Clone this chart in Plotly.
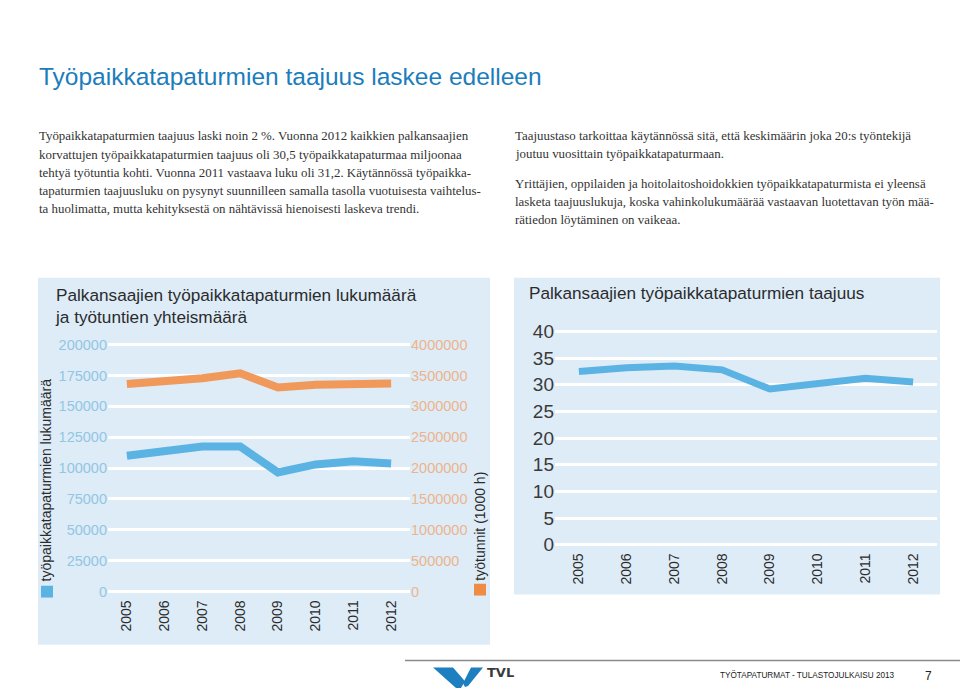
import plotly.graph_objects as go

# ---------------- data ----------------
years = ["2005", "2006", "2007", "2008", "2009", "2010", "2011", "2012"]
accidents = [110000, 113800, 117500, 117500, 96500, 103000, 105600, 103800]
work_hours = [3360000, 3400000, 3455000, 3535000, 3305000, 3350000, 3370000, 3370000]
frequency = [32.5, 33.2, 33.5, 32.8, 29.2, 30.3, 31.2, 30.5]

left_ticks = [0, 25000, 50000, 75000, 100000, 125000, 150000, 175000, 200000]
right_ticks = [0, 500000, 1000000, 1500000, 2000000, 2500000, 3000000, 3500000, 4000000]
freq_ticks = [0, 5, 10, 15, 20, 25, 30, 35, 40]

title_text = "Työpaikkatapaturmien taajuus laskee edelleen"
left_par = [
    "Työpaikkatapaturmien taajuus laski noin 2 %. Vuonna 2012 kaikkien palkansaajien",
    "korvattujen työpaikkatapaturmien taajuus oli 30,5 työpaikkatapaturmaa miljoonaa",
    "tehtyä työtuntia kohti. Vuonna 2011 vastaava luku oli 31,2. Käytännössä työpaikka-",
    "tapaturmien taajuusluku on pysynyt suunnilleen samalla tasolla vuotuisesta vaihtelus-",
    "ta huolimatta, mutta kehityksestä on nähtävissä hienoisesti laskeva trendi.",
]
right_par = [
    "Taajuustaso tarkoittaa käytännössä sitä, että keskimäärin joka 20:s työntekijä",
    "joutuu vuosittain työpaikkatapaturmaan.",
    "",
    "Yrittäjien, oppilaiden ja hoitolaitoshoidokkien työpaikkatapaturmista ei yleensä",
    "lasketa taajuuslukuja, koska vahinkolukumäärää vastaavan luotettavan työn mää-",
    "rätiedon löytäminen on vaikeaa.",
]
left_chart_title = "Palkansaajien työpaikkatapaturmien lukumäärä<br>ja työtuntien yhteismäärä"
right_chart_title = "Palkansaajien työpaikkatapaturmien taajuus"
left_axis_title = "työpaikkatapaturmien lukumäärä"
right_axis_title = "työtunnit (1000 h)"
footer_text = "TYÖTAPATURMAT - TULASTOJULKAISU 2013"
page_no = "7"

# ---------------- styling ----------------
W, H = 960, 699
BLUE = "#5bb3e3"
ORANGE = "#f0995a"
PANEL = "#deecf8"
BLUE_TXT = "#92c6e3"
ORANGE_TXT = "#ecb48c"
DARK = "#2b2b2b"
SANS = "Liberation Sans, Arial, sans-serif"
SERIF = "Liberation Serif, Times New Roman, serif"
NARROW = "Liberation Sans Narrow, Liberation Sans, sans-serif"


def px_x(x):
    return x / W


def px_y(y):
    return 1 - y / H


fig = go.Figure()

fig.add_trace(go.Scatter(x=years, y=accidents, mode="lines", xaxis="x", yaxis="y",
                         line=dict(color=BLUE, width=8), showlegend=False, hoverinfo="skip"))
fig.add_trace(go.Scatter(x=years, y=work_hours, mode="lines", xaxis="x", yaxis="y2",
                         line=dict(color=ORANGE, width=8), showlegend=False, hoverinfo="skip"))
fig.add_trace(go.Scatter(x=years, y=frequency, mode="lines", xaxis="x3", yaxis="y3",
                         line=dict(color=BLUE, width=7), showlegend=False, hoverinfo="skip"))

# left chart scale: 25000 units = 31.4 px
u = 25000 / 31.4
pad = 5 * u
fig.update_layout(
    width=W, height=H, autosize=False,
    margin=dict(l=0, r=0, t=0, b=0),
    paper_bgcolor="white", plot_bgcolor="rgba(0,0,0,0)",
    xaxis=dict(domain=[px_x(108), px_x(410)], type="category", range=[-0.5, 7.5],
               anchor="y", tickangle=-90, showgrid=False, zeroline=False, showline=False,
               ticks="", tickfont=dict(family=SANS, size=14, color=DARK)),
    yaxis=dict(domain=[px_y(601), px_y(340)], range=[-pad, 200000 + pad],
               tickvals=left_ticks, ticktext=[str(v) for v in left_ticks],
               showgrid=True, gridcolor="white", gridwidth=3, zeroline=False,
               showline=False, ticks="", tickfont=dict(family=SANS, size=14.5, color=BLUE_TXT)),
    yaxis2=dict(overlaying="y", side="right", anchor="x", range=[-pad * 20, (200000 + pad) * 20],
                tickvals=right_ticks, ticktext=[str(v) for v in right_ticks],
                showgrid=False, zeroline=False, showline=False, ticks="",
                tickfont=dict(family=SANS, size=14.5, color=ORANGE_TXT)),
    xaxis3=dict(domain=[px_x(555), px_x(937)], type="category", range=[-0.5, 7.5],
                anchor="y3", tickangle=-90, showgrid=False, zeroline=False, showline=False,
                ticks="", tickfont=dict(family=SANS, size=14, color=DARK)),
    yaxis3=dict(domain=[px_y(553.3), px_y(326.7)], range=[-0.923, 40.923],
                tickvals=freq_ticks, ticktext=[str(v) for v in freq_ticks],
                anchor="x3", showgrid=True, gridcolor="white", gridwidth=3, zeroline=False,
                showline=False, ticks="", tickfont=dict(family=SANS, size=19, color="#3a3a3a")),
)

shapes = []
# panels
shapes.append(dict(type="rect", xref="paper", yref="paper", x0=px_x(38), x1=px_x(490),
                   y0=px_y(650), y1=px_y(277), fillcolor=PANEL, line=dict(width=0), layer="below"))
shapes.append(dict(type="rect", xref="paper", yref="paper", x0=px_x(514), x1=px_x(940),
                   y0=px_y(599), y1=px_y(277), fillcolor=PANEL, line=dict(width=0), layer="below"))
# legend squares
shapes.append(dict(type="rect", xref="paper", yref="paper", x0=px_x(41), x1=px_x(53),
                   y0=px_y(602), y1=px_y(590), fillcolor=BLUE, line=dict(width=0)))
shapes.append(dict(type="rect", xref="paper", yref="paper", x0=px_x(474), x1=px_x(486),
                   y0=px_y(600), y1=px_y(588), fillcolor="#ee8c45", line=dict(width=0)))
# footer rule
shapes.append(dict(type="line", xref="paper", yref="paper", x0=px_x(405), x1=px_x(960),
                   y0=px_y(666), y1=px_y(666), line=dict(color="#8a8a8a", width=1.5)))


def path(points):
    return "M " + " L ".join(f"{px_x(x):.5f},{px_y(y):.5f}" for x, y in points) + " Z"


# TVL logo chevron
shapes.append(dict(type="path", xref="paper", yref="paper",
                   path=path([(433, 673), (453, 673), (465, 687), (461, 694), (456, 694)]),
                   fillcolor="#1d7fc0", line=dict(width=0)))
shapes.append(dict(type="path", xref="paper", yref="paper",
                   path=path([(463, 689), (471, 673), (483, 673), (468, 692), (465, 693)]),
                   fillcolor="#1d7fc0", line=dict(width=0)))
fig.update_layout(shapes=shapes)

ann = []
ann.append(dict(text=title_text, x=px_x(37), y=px_y(73), xref="paper", yref="paper",
                xanchor="left", yanchor="middle", showarrow=False,
                font=dict(family=NARROW, size=24.5, color="#1b7dbb")))
for i, (line, yy) in enumerate(zip(left_par, [133.3, 152.3, 171, 189.3, 207.5])):
    ann.append(dict(text=line, x=px_x(37), y=px_y(yy), xref="paper", yref="paper",
                    xanchor="left", yanchor="middle", showarrow=False,
                    font=dict(family=SERIF, size=12.9, color="#333333")))
for line, yy in zip(right_par, [133.3, 151.5, 0, 182, 200, 218]):
    if not line:
        continue
    ann.append(dict(text=line, x=px_x(513), y=px_y(yy), xref="paper", yref="paper",
                    xanchor="left", yanchor="middle", showarrow=False,
                    font=dict(family=SERIF, size=12.9, color="#333333")))
ann.append(dict(text=left_chart_title, x=px_x(53), y=px_y(306), xref="paper", yref="paper",
                xanchor="left", yanchor="middle", align="left", showarrow=False,
                font=dict(family=SANS, size=17.2, color=DARK)))
ann.append(dict(text=right_chart_title, x=px_x(527), y=px_y(293), xref="paper", yref="paper",
                xanchor="left", yanchor="middle", showarrow=False,
                font=dict(family=SANS, size=17.2, color=DARK)))
ann.append(dict(text=left_axis_title, x=px_x(46), y=px_y(483), xref="paper", yref="paper",
                xanchor="center", yanchor="middle", textangle=-90, showarrow=False,
                font=dict(family=SANS, size=14, color=DARK)))
ann.append(dict(text=right_axis_title, x=px_x(480), y=px_y(530), xref="paper", yref="paper",
                xanchor="center", yanchor="middle", textangle=-90, showarrow=False,
                font=dict(family=SANS, size=14, color=DARK)))
ann.append(dict(text="<b>TVL</b>", x=px_x(485), y=px_y(678), xref="paper", yref="paper",
                xanchor="left", yanchor="middle", showarrow=False,
                font=dict(family="DejaVu Sans, sans-serif", size=13, color="#3a3a3a")))
ann.append(dict(text=footer_text, x=px_x(718), y=px_y(681), xref="paper", yref="paper",
                xanchor="left", yanchor="middle", showarrow=False,
                font=dict(family=NARROW, size=8.2, color="#222222")))
ann.append(dict(text=page_no, x=px_x(928), y=px_y(682), xref="paper", yref="paper",
                xanchor="center", yanchor="middle", showarrow=False,
                font=dict(family=NARROW, size=12, color="#222222")))
fig.update_layout(annotations=ann)

fig.write_html("out.html", config={"displayModeBar": False},
               post_script="document.body.style.margin='0';document.body.style.overflow='hidden';")
